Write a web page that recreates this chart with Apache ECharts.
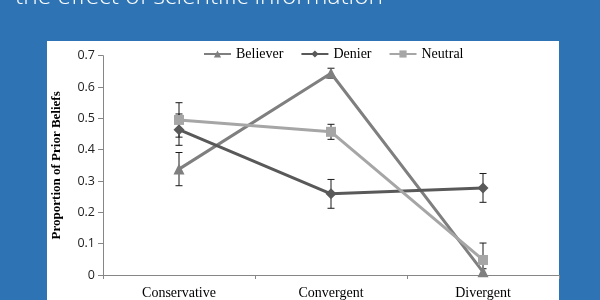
<!DOCTYPE html>
<html>
<head>
<meta charset="utf-8">
<script src="https://cdn.jsdelivr.net/npm/echarts@6/dist/echarts.min.js"></script>
<style>html,body{margin:0;padding:0;background:#2E74B5;}#c{width:600px;height:300px;}</style>
</head>
<body>
<div id="c"></div>
<script>
var categories = ['Conservative', 'Convergent', 'Divergent'];
var believer = [0.338, 0.644, 0.01];
var believerErr = [0.053, 0.016, 0.01];
var denier = [0.464, 0.259, 0.278];
var denierErr = [0.05, 0.046, 0.046];
var neutral = [0.495, 0.457, 0.048];
var neutralErr = [0.055, 0.024, 0.054];
var yTicks = [0, 0.1, 0.2, 0.3, 0.4, 0.5, 0.6, 0.7];
var titleText = 'the effect of scientific information';

function errData(vals, errs) {
  return vals.map(function (v, i) { return [i, Math.max(0, v - errs[i]), v + errs[i]]; });
}
function errSeries(vals, errs) {
  return {
    type: 'custom',
    silent: true,
    z: 1,
    data: errData(vals, errs),
    renderItem: function (params, api) {
      var lo = api.coord([api.value(0), api.value(1)]);
      var hi = api.coord([api.value(0), api.value(2)]);
      var w = 3.5;
      var st = { stroke: '#1a1a1a', lineWidth: 1 };
      return {
        type: 'group',
        children: [
          { type: 'line', shape: { x1: lo[0], y1: lo[1], x2: hi[0], y2: hi[1] }, style: st },
          { type: 'line', shape: { x1: lo[0] - w, y1: lo[1], x2: lo[0] + w, y2: lo[1] }, style: st },
          { type: 'line', shape: { x1: hi[0] - w, y1: hi[1], x2: hi[0] + w, y2: hi[1] }, style: st }
        ]
      };
    }
  };
}

var chart = echarts.init(document.getElementById('c'), null, { renderer: 'canvas' });
chart.setOption({
  animation: false,
  backgroundColor: '#2E74B5',
  graphic: [
    { type: 'rect', shape: { x: 47, y: 41, width: 512, height: 270 }, style: { fill: '#ffffff' }, z: -10 },
    { type: 'text', x: 15, y: -15, style: { text: titleText, fill: '#ffffff', font: '300 24.5px "Open Sans"' }, z: 10 }
  ],
  legend: {
    top: 47,
    left: 203,
    padding: 0,
    itemWidth: 27,
    itemHeight: 9,
    itemGap: 17,
    textStyle: { fontFamily: 'Liberation Serif', fontSize: 14, color: '#000' },
    data: ['Believer', 'Denier', 'Neutral']
  },
  grid: { left: 103, right: 41, top: 55.7, bottom: 20.5, containLabel: false },
  xAxis: {
    type: 'category',
    data: categories,
    boundaryGap: true,
    axisLine: { lineStyle: { color: '#868686', width: 1 } },
    axisTick: { show: true, length: 4, lineStyle: { color: '#868686' } },
    axisLabel: { fontFamily: 'Liberation Serif', fontSize: 14, color: '#000', margin: 11 }
  },
  yAxis: {
    type: 'value',
    min: 0, max: 0.7, interval: 0.1,
    name: 'Proportion of Prior Beliefs',
    nameLocation: 'middle',
    nameGap: 40,
    nameTextStyle: { fontFamily: 'Liberation Serif', fontWeight: 'bold', fontSize: 13, color: '#000' },
    axisLine: { show: true, lineStyle: { color: '#868686', width: 1 } },
    axisTick: { show: true, length: 5, lineStyle: { color: '#868686' } },
    splitLine: { show: false },
    axisLabel: {
      fontFamily: 'Open Sans', fontSize: 12.5, color: '#222', margin: 8,
      formatter: function (v) { var r = Math.round(v * 10) / 10; return yTicks.indexOf(r) >= 0 ? (r === 0 ? '0' : r.toFixed(1)) : ''; }
    }
  },
  series: [
    errSeries(believer, believerErr),
    errSeries(denier, denierErr),
    errSeries(neutral, neutralErr),
    { name: 'Believer', type: 'line', data: believer, symbol: 'triangle', symbolSize: 11, z: 3,
      itemStyle: { color: '#7f7f7f' }, lineStyle: { color: '#7f7f7f', width: 3 } },
    { name: 'Denier', type: 'line', data: denier, symbol: 'diamond', symbolSize: 11, z: 3,
      itemStyle: { color: '#595959' }, lineStyle: { color: '#595959', width: 3 } },
    { name: 'Neutral', type: 'line', data: neutral, symbol: 'rect', symbolSize: 10, z: 3,
      itemStyle: { color: '#a6a6a6' }, lineStyle: { color: '#a6a6a6', width: 3 } }
  ]
});
</script>
</body>
</html>
